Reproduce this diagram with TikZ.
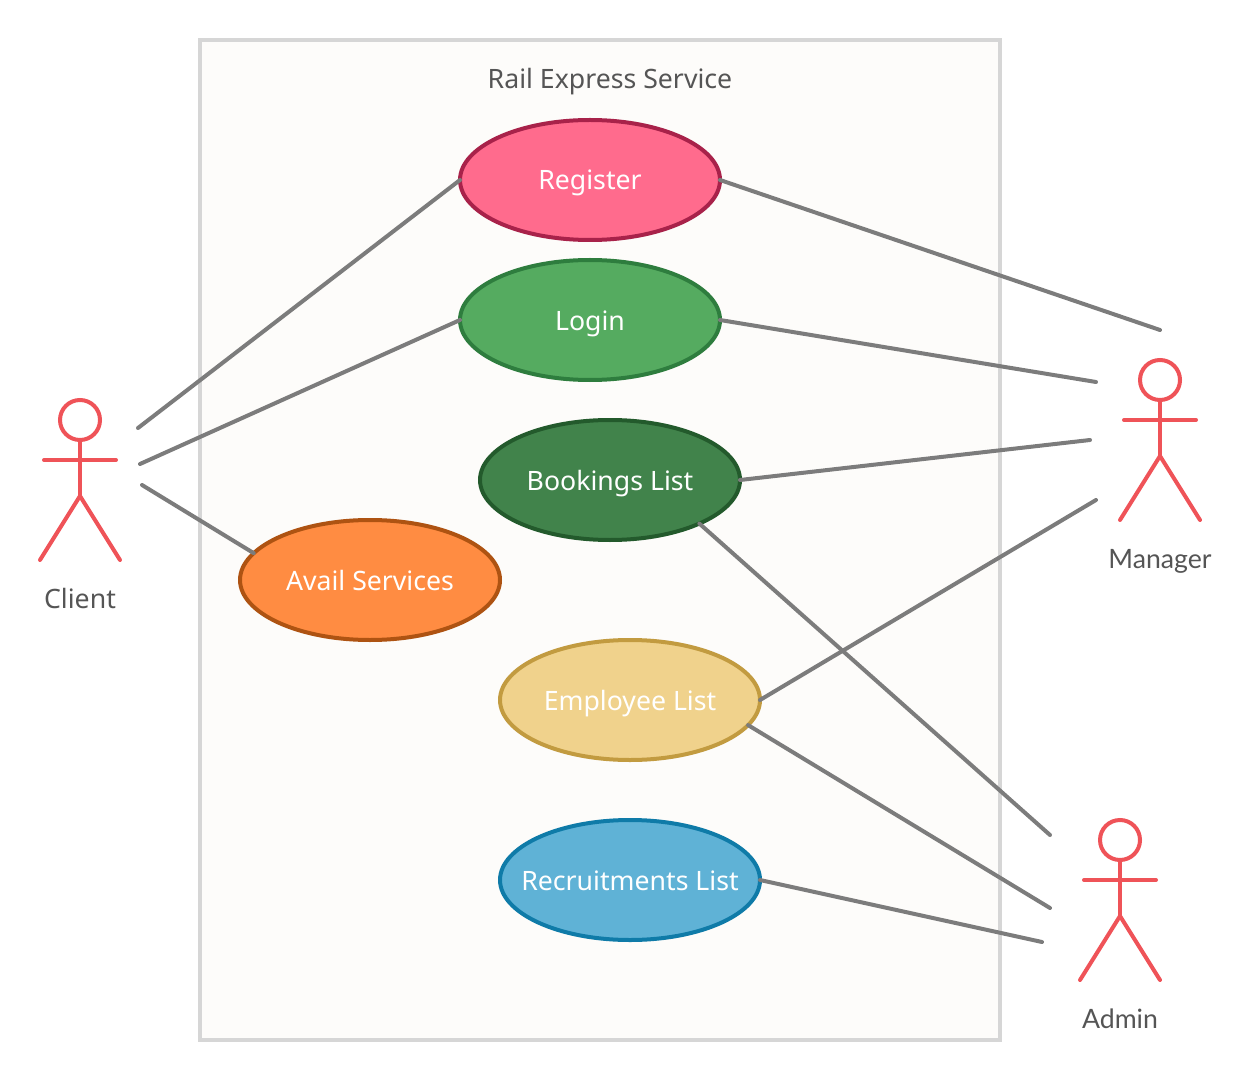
\documentclass[tikz,border=0pt]{standalone}
\usepackage{fontspec}
\setmainfont{Noto Sans}
\newfontfamily\lblfont{Lato}
\usetikzlibrary{positioning,shapes.geometric}
\definecolor{boxgray}{RGB}{214,214,214}
\definecolor{boxfill}{RGB}{253,252,250}
\definecolor{linkgray}{RGB}{124,124,124}
\definecolor{actorred}{RGB}{239,83,88}
\definecolor{labelgray}{RGB}{85,85,85}
\definecolor{regfill}{RGB}{255,107,141}
\definecolor{regedge}{RGB}{168,34,74}
\definecolor{logfill}{RGB}{85,171,96}
\definecolor{logedge}{RGB}{46,125,62}
\definecolor{bookfill}{RGB}{65,131,75}
\definecolor{bookedge}{RGB}{35,90,44}
\definecolor{availfill}{RGB}{255,140,66}
\definecolor{availedge}{RGB}{174,83,18}
\definecolor{empfill}{RGB}{240,210,140}
\definecolor{empedge}{RGB}{194,155,64}
\definecolor{recfill}{RGB}{95,178,214}
\definecolor{recedge}{RGB}{15,123,168}
\tikzset{
  usecase/.style={ellipse,draw,line width=3pt,minimum width=195pt,minimum height=90pt,
                  inner sep=0pt,outer sep=0pt,text=white,text height=19.5pt,text depth=4.5pt,
                  font=\fontsize{20}{24}\selectfont},
  ucA/.style={usecase,fill=regfill,draw=regedge},
  ucB/.style={usecase,fill=logfill,draw=logedge},
  ucC/.style={usecase,fill=bookfill,draw=bookedge},
  ucD/.style={usecase,fill=availfill,draw=availedge},
  ucE/.style={usecase,fill=empfill,draw=empedge},
  ucF/.style={usecase,fill=recfill,draw=recedge},
  link/.style={line width=3pt,linkgray,line cap=round},
  lbl/.style={text=labelgray,inner sep=0pt,text height=19.5pt,text depth=4.5pt,
              font=\fontsize{20}{24}\selectfont},
  lblB/.style={lbl,font=\lblfont\fontsize{20}{24}\selectfont},
  limb/.style={line width=3pt,actorred,line cap=round,line join=round},
  headnd/.style={circle,draw=actorred,line width=3pt,minimum size=30pt,inner sep=0pt,outer sep=0pt},
  actor/.pic={
    \node[headnd] (-head) at (0,0) {};
    \coordinate (-hip) at (0,76);
    \draw[limb] (-head) -- (-hip);
    \draw[limb] (-36,40) -- (36,40);
    \draw[limb] (-40,140) -- (-hip) -- (40,140);
  },
}
\begin{document}
\begin{tikzpicture}[x=0.75pt,y=-0.75pt]
    \useasboundingbox (0,0) rectangle (1252,1080);
    % the system box
    \node[rectangle,draw=boxgray,fill=boxfill,line width=3pt,minimum width=600pt,minimum height=750pt,
          inner sep=0pt] (sys) at (600,540) {};
    \node[lbl] (title) at (610,79) {Rail Express Service};
    % use cases
    \node[ucA] (register) at (590,180) {Register};
    \node[ucB] (login) at (590,320) {Login};
    \node[ucC] (bookings) at (610,480) {Bookings List};
    \node[ucD] (avail) at (370,580) {Avail Services};
    \node[ucE] (employee) at (630,700) {Employee List};
    \node[ucF] (recruit) at (630,880) {\makebox[0pt]{Recruitments List}};
    % actors
    \pic (client) at (80,420) {actor};
    \pic (manager) at (1160,380) {actor};
    \pic (admin) at (1120,840) {actor};
    \node[lbl] (clientlbl) at (80,598) {Client};
    \node[lblB] (managerlbl) at (1160,558) {Manager};
    \node[lblB] (adminlbl) at (1120,1018) {Admin};
    % free ends near the actors
    \coordinate (c1) at (138,428);
    \coordinate (c2) at (140,464);
    \coordinate (c3) at (142,485);
    \coordinate (m1) at (1160,330);
    \coordinate (m2) at (1096,382);
    \coordinate (m3) at (1090,440);
    \coordinate (m4) at (1096,500);
    \coordinate (a1) at (1050,835);
    \coordinate (a2) at (1050,908);
    \coordinate (a3) at (1042,942);
    % links
    \draw[link] (register.west) -- (c1);
    \draw[link] (login.west) -- (c2);
    \draw[link] (avail.167) -- (c3);
    \draw[link] (register.east) -- (m1);
    \draw[link] (login.east) -- (m2);
    \draw[link] (bookings.east) -- (m3);
    \draw[link] (employee.east) -- (m4);
    \draw[link] (bookings.-26.3) -- (a1);
    \draw[link] (employee.-12.4) -- (a2);
    \draw[link] (recruit.east) -- (a3);
  \end{tikzpicture}
\end{document}
